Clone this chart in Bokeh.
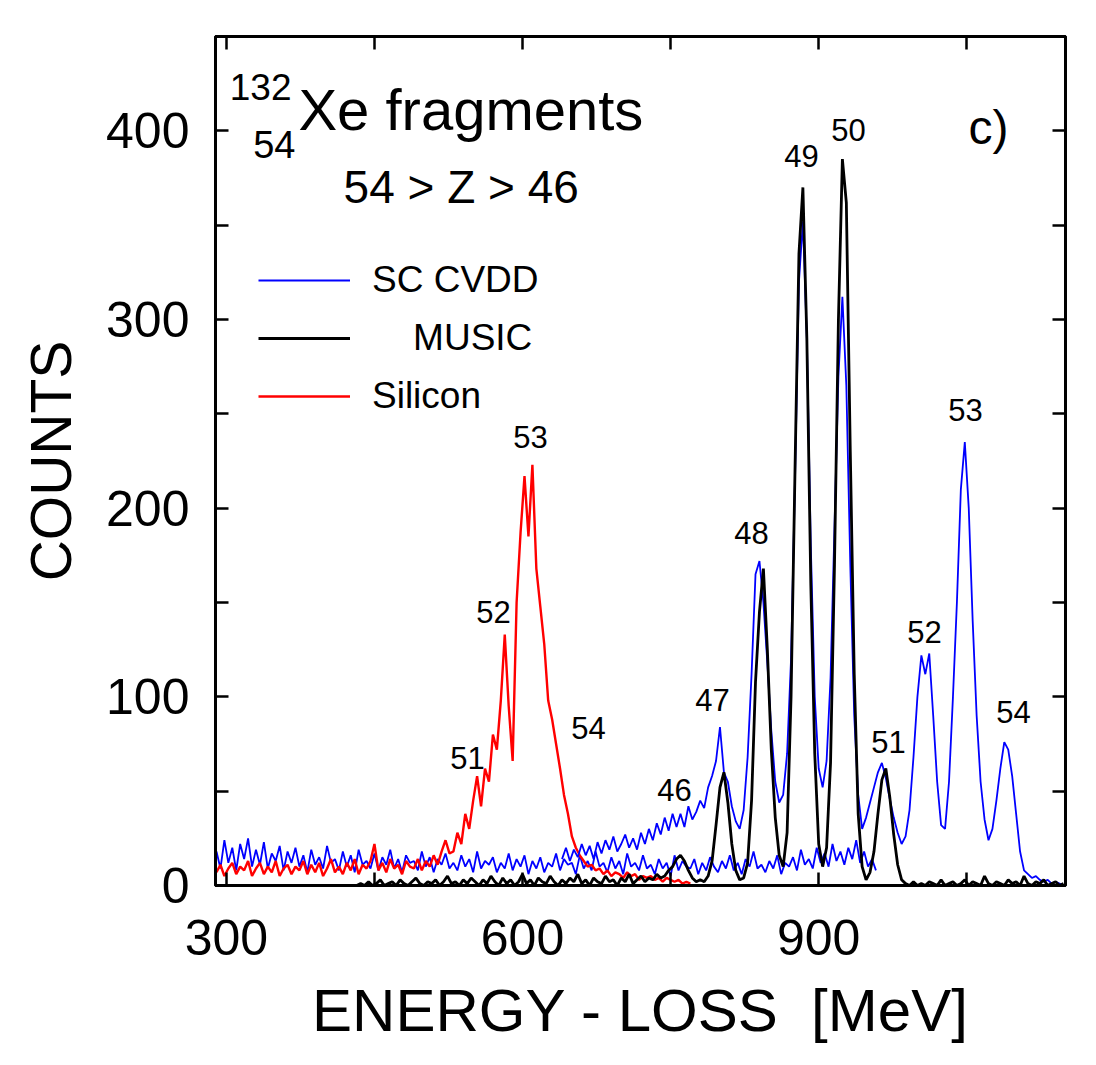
from bokeh.plotting import figure
from bokeh.models import (Range1d, LinearAxis, FixedTicker, Label, Legend, LegendItem,
                          CustomJSTickFormatter)
from bokeh.embed import file_html
from bokeh.resources import INLINE

FONT = "Liberation Sans"
STEP = 4  # MeV per channel

# ---- data (counts per 4 MeV channel) ----
BLUE_BASE_START = 290
BLUE_BASE = [
    18, 9, 24, 12, 20, 8, 22, 14, 25, 10,
    19, 11, 23, 9, 17, 13, 21, 8, 18, 12,
    20, 10, 16, 7, 19, 11, 15, 9, 21, 12,
    14, 8, 18, 10, 16, 7, 19, 11, 13, 9,
    17, 8, 15, 11, 19, 9, 14, 7, 16, 12,
    13, 8, 18, 10, 15, 7, 14, 11, 17, 9,
    12, 8, 16, 10, 14, 7, 18, 9, 13, 11,
    15, 7, 12, 9, 17, 8, 14, 10, 16, 6,
    13, 9, 15, 7, 12, 10, 17, 8, 14, 11,
    12, 6, 16, 9, 13, 8, 18, 10, 12, 7,
    15, 9, 13, 6, 17, 10, 12, 8, 16, 9,
    11, 6, 14, 9, 12, 5, 16, 8, 13, 10,
    9, 14, 6, 12, 8, 15, 10, 7, 13, 9,
    16, 8, 12, 6, 14, 10, 18, 9, 11, 7,
    13, 9, 16, 6, 12, 10, 15, 8, 19, 11,
    14, 9, 20, 12, 17, 10, 22, 13, 18, 11,
    20, 14, 24, 12, 18, 10, 14, 8,
]

BLUE_MAIN_START = 640
BLUE_MAIN = [
    14, 20, 13, 19, 15, 22, 16, 21, 14, 23,
    17, 24, 19, 26, 18, 22, 27, 20, 25, 19,
    28, 22, 30, 24, 33, 27, 36, 29, 38, 31,
    38, 31, 42, 35, 39, 45, 41, 52, 58, 66,
    84, 60, 55, 42, 34, 30, 40, 68, 112, 165,
    172, 150, 118, 82, 55, 44, 48, 70, 120, 215,
    320, 352, 290, 180, 100, 62, 52, 66, 110, 190,
    270, 312, 265, 170, 90, 48, 30, 36, 44, 52,
    60, 65, 57, 46, 36, 28, 22, 26, 40, 68,
    100, 122, 112, 123, 90, 55, 32, 30, 55, 100,
    150, 210, 235, 200, 140, 90, 55, 35, 24, 30,
    45, 62, 76, 72, 58, 38, 18, 8, 6, 4,
    5, 3, 2, 3, 1, 2, 1, 0,
]

BLACK_START = 432
BLACK = [
    0, 1, 0, 2, 0, 1, 3, 0, 1, 2,
    0, 3, 1, 0, 2, 4, 1, 0, 2, 1,
    3, 0, 2, 5, 1, 2, 0, 3, 1, 4,
    2, 0, 3, 1, 5, 2, 0, 4, 1, 3,
    0, 2, 6, 1, 3, 0, 4, 2, 1, 5,
    2, 0, 3, 1, 4, 2, 6, 1, 3, 0,
    4, 2, 1, 5, 2, 3, 0, 4, 2, 6,
    1, 3, 5, 2, 4, 3, 6, 4, 5, 8,
    10, 14, 16, 13, 8, 4, 2, 3, 2, 5,
    13, 32, 52, 60, 44, 22, 8, 3, 4, 12,
    45, 108, 145, 168, 125, 72, 36, 16, 10, 28,
    100, 220, 335, 370, 290, 160, 70, 22, 10, 20,
    65, 170, 300, 385, 362, 230, 112, 38, 10, 3,
    7, 18, 38, 56, 62, 47, 27, 11, 3, 1,
    0, 2, 0, 1, 0, 2, 1, 0, 3, 0,
    1, 2, 0, 1, 3, 0, 2, 1, 0, 5,
    1, 0, 2, 1, 0, 3, 1, 2, 0, 5,
    1, 0, 2, 1, 3, 0, 1, 2, 0, 1,
]

RED_START = 290
RED = [
    7, 11, 5, 9, 12, 6, 10, 8, 13, 5,
    9, 12, 6, 10, 7, 13, 5, 9, 11, 6,
    10, 8, 13, 6, 11, 7, 12, 5, 9, 14,
    7, 10, 6, 12, 8, 14, 6, 11, 9, 13,
    22, 8, 12, 7, 14, 9, 11, 6, 13, 10,
    9, 14, 8, 13, 10, 16, 11, 18, 24, 17,
    18, 28, 22, 38, 30, 45, 58, 42, 62, 55,
    80, 72, 98, 133, 95, 66, 150, 187, 217, 185,
    223, 168, 148, 128, 98, 88, 75, 62, 48, 38,
    26, 20, 16, 13, 10, 11, 8, 9, 6, 8,
    5, 7, 6, 4, 7, 5, 6, 3, 5, 4,
    5, 3, 4, 2, 4, 3, 2, 3, 1, 2,
    1,
]

# peak labels: (text, energy, counts)
PEAK_LABELS = [
    ("49", 882.6, 386.9), ("50", 930.2, 400.2), ("53", 1048.7, 251.8),
    ("52", 1007.2, 134.1), ("54", 1097.3, 91.7), ("51", 970.7, 75.8),
    ("48", 831.9, 187.1), ("47", 792.4, 98.1), ("46", 753.9, 50.4),
    ("53", 608.1, 237.5), ("52", 570.6, 144.7), ("51", 544.3, 67.8),
    ("54", 666.8, 83.7),
]

X_TICKS = [300, 600, 900]
X_MINOR = [450, 750, 1050]
Y_TICKS = [0, 100, 200, 300, 400]
Y_MINOR = [50, 150, 250, 350, 450]


def xs(start, vals):
    return [start + STEP * i for i in range(len(vals))]


p = figure(width=1090, height=1060, output_backend="svg", toolbar_location=None,
           x_range=Range1d(289, 1150), y_range=Range1d(0, 450),
           min_border_left=215, min_border_right=25, min_border_top=36,
           min_border_bottom=175)
p.grid.visible = False
p.outline_line_color = "black"
p.outline_line_width = 3
p.background_fill_color = "white"
p.border_fill_color = "white"


def style(ax, ticks, minor, labels=True):
    ax.ticker = FixedTicker(ticks=ticks, minor_ticks=minor)
    ax.axis_line_width = 3
    ax.axis_line_color = "black"
    ax.major_tick_in = 13
    ax.major_tick_out = 0
    ax.minor_tick_in = 13
    ax.minor_tick_out = 0
    ax.major_tick_line_width = 2.5
    ax.minor_tick_line_width = 2.5
    ax.major_label_text_font = FONT
    ax.major_label_text_color = "black"
    ax.major_label_text_font_size = "50px"
    if not labels:
        ax.formatter = CustomJSTickFormatter(code="return ''")
        ax.major_label_standoff = 0


xa = p.xaxis[0]
style(xa, X_TICKS, X_MINOR)
xa.major_label_standoff = 34
xa.axis_label = "ENERGY - LOSS \u00a0[MeV]"
xa.axis_label_text_font = FONT
xa.axis_label_text_font_size = "60px"
xa.axis_label_text_font_style = "normal"
xa.axis_label_text_color = "black"
xa.axis_label_standoff = 19

ya = p.yaxis[0]
style(ya, Y_TICKS, Y_MINOR)
ya.major_label_standoff = 26
ya.axis_label = "COUNTS"
ya.axis_label_text_font = FONT
ya.axis_label_text_font_size = "57px"
ya.axis_label_text_font_style = "normal"
ya.axis_label_text_color = "black"
ya.axis_label_standoff = 20

top = LinearAxis()
style(top, X_TICKS, X_MINOR, labels=False)
p.add_layout(top, "above")
right = LinearAxis()
style(right, Y_TICKS, Y_MINOR, labels=False)
p.add_layout(right, "right")

p.line(xs(BLUE_BASE_START, BLUE_BASE), BLUE_BASE, line_color="#0000ff", line_width=1.8)
r_red = p.line(xs(RED_START, RED), RED, line_color="#ff0000", line_width=2.4)
r_blue = p.line(xs(BLUE_MAIN_START, BLUE_MAIN), BLUE_MAIN, line_color="#0000ff", line_width=1.8)
r_black = p.line(xs(BLACK_START, BLACK), BLACK, line_color="black", line_width=2.8)

legend = Legend(items=[
    LegendItem(label="SC CVDD", renderers=[r_blue]),
    LegendItem(label="\u00a0\u00a0\u00a0\u00a0MUSIC", renderers=[r_black]),
    LegendItem(label="Silicon", renderers=[r_red]),
], location=(43, 464))
legend.glyph_width = 92
legend.glyph_height = 50
legend.label_height = 50
legend.spacing = 8
legend.padding = 0
legend.margin = 0
legend.border_line_color = None
legend.background_fill_alpha = 0
legend.label_text_font = FONT
legend.label_text_font_size = "37px"
legend.label_text_color = "black"
legend.label_standoff = 22
p.add_layout(legend)

# title texts (vertically centred)
TXT = dict(text_font=FONT, text_color="black", text_baseline="middle")
p.add_layout(Label(x=366, y=423.2, text="132", text_font_size="37px",
                   text_align="right", **TXT))
p.add_layout(Label(x=370, y=392.8, text="54", text_font_size="38px",
                   text_align="right", **TXT))
p.add_layout(Label(x=373, y=411.3, text="Xe fragments", text_font_size="58px",
                   text_align="left", **TXT))
p.add_layout(Label(x=418.7, y=370.2, text="54 > Z > 46", text_font_size="46px",
                   text_align="left", **TXT))
p.add_layout(Label(x=1051.7, y=401.8, text="c)", text_font_size="48px",
                   text_align="left", **TXT))

for t, ex, cy in PEAK_LABELS:
    p.add_layout(Label(x=ex, y=cy, text=t, text_font_size="31px",
                       text_align="center", **TXT))

open("out.html", "w").write(file_html(p, INLINE))
